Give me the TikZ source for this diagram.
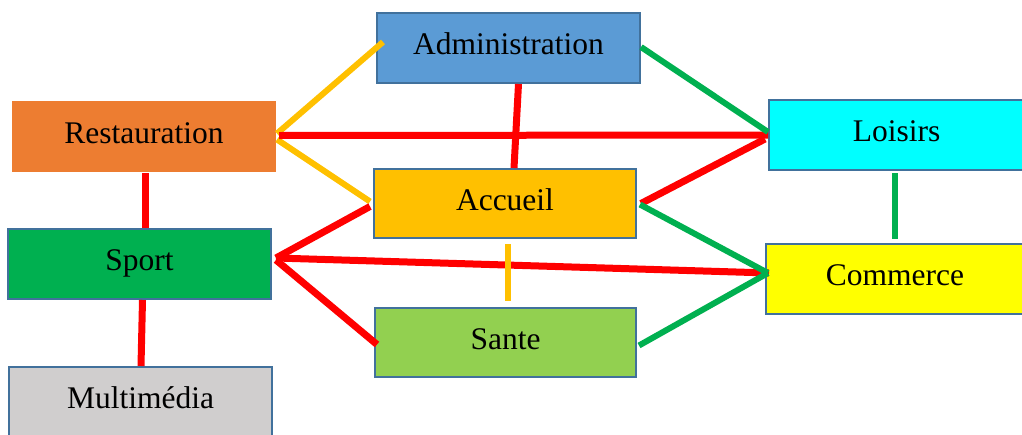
\documentclass[tikz,border=0pt]{standalone}
\usepackage{fontspec}
\setmainfont{Liberation Serif}
\usetikzlibrary{calc}
\definecolor{bordc}{HTML}{41719C}
\definecolor{cadmin}{HTML}{5B9BD5}
\definecolor{crest}{HTML}{ED7D31}
\definecolor{cloisirs}{HTML}{00FFFF}
\definecolor{caccueil}{HTML}{FFC000}
\definecolor{csport}{HTML}{00B050}
\definecolor{ccommerce}{HTML}{FFFF00}
\definecolor{csante}{HTML}{92D050}
\definecolor{cmulti}{HTML}{D0CECE}
\definecolor{lred}{HTML}{FF0000}
\definecolor{lgreen}{HTML}{00B050}
\definecolor{lyellow}{HTML}{FFC000}
\tikzset{
  box/.style={draw=bordc, line width=2pt, minimum height=70pt, inner sep=0pt,
    text height=22pt, text depth=9pt,
    font=\fontsize{31.5}{36}\selectfont, text=black},
  redline/.style={draw=lred, line width=7pt},
  greenline/.style={draw=lgreen, line width=6pt},
  yellowline/.style={draw=lyellow, line width=6pt},
}
\begin{document}
\begin{tikzpicture}[x=1pt,y=-1pt]
\useasboundingbox (0,0) rectangle (1022,434);
% boxes
\node[box, fill=cadmin, minimum width=263pt] (admin) at (508.5,48) {Administration};
\node[box, draw=none, fill=crest, minimum width=264pt, minimum height=71pt] (rest) at (144,136.5) {Restauration};
\node[box, fill=cloisirs, minimum width=255pt] (loisirs) at (896.5,135) {Loisirs};
\node[box, fill=caccueil, minimum width=262pt, minimum height=69pt] (accueil) at (505,203.5) {Accueil};
\node[box, fill=csport, minimum width=263pt] (sport) at (139.5,264) {Sport};
\node[box, fill=ccommerce, minimum width=258pt] (commerce) at (895,279) {Commerce};
\node[box, fill=csante, minimum width=261pt, minimum height=69pt] (sante) at (505.5,342.5) {Sante};
\node[box, fill=cmulti, minimum width=263pt] (multi) at (140.5,402) {Multimédia};
% connectors
\draw[yellowline] ($(rest.east)+(0,-3)$) -- ($(admin.west)+(7,-6)$);
\draw[yellowline] ($(rest.east)+(0,3)$) -- ($(accueil.west)+(-3,-2)$);
\draw[redline] ($(rest.east)+(2,-1)$) -- (loisirs.west);
\draw[redline] ($(rest.south)+(1,0)$) -- ($(sport.north)+(5.5,0)$);
\draw[redline] ($(sport.east)+(4,-6)$) -- ($(accueil.west)+(-3,3)$);
\draw[redline] ($(sport.east)+(4,-6)$) -- ($(commerce.west)+(4,-6)$);
\draw[redline] ($(sport.east)+(4,-4)$) -- ($(sante.west)+(3,2)$);
\draw[redline] ($(sport.south)+(3,0)$) -- ($(multi.north)+(0.5,0)$);
\draw[greenline] ($(admin.east)+(0,-1)$) -- ($(loisirs.west)+(0,-3)$);
\draw[redline] ($(admin.south)+(10,0)$) -- ($(accueil.north)+(9,0)$);
\draw[redline] ($(accueil.east)+(4,0)$) -- ($(loisirs.west)+(-3,4)$);
\draw[greenline] ($(accueil.east)+(3,1)$) -- ($(commerce.west)+(3,-6)$);
\draw[yellowline] ($(accueil.south)+(3,5)$) -- ($(sante.north)+(2.5,-6)$);
\draw[greenline] ($(sante.east)+(2,3)$) -- ($(commerce.west)+(3,-6)$);
\draw[greenline] ($(loisirs.south)+(-1.5,2)$) -- ($(commerce.north)+(0,-4)$);
\end{tikzpicture}
\end{document}
